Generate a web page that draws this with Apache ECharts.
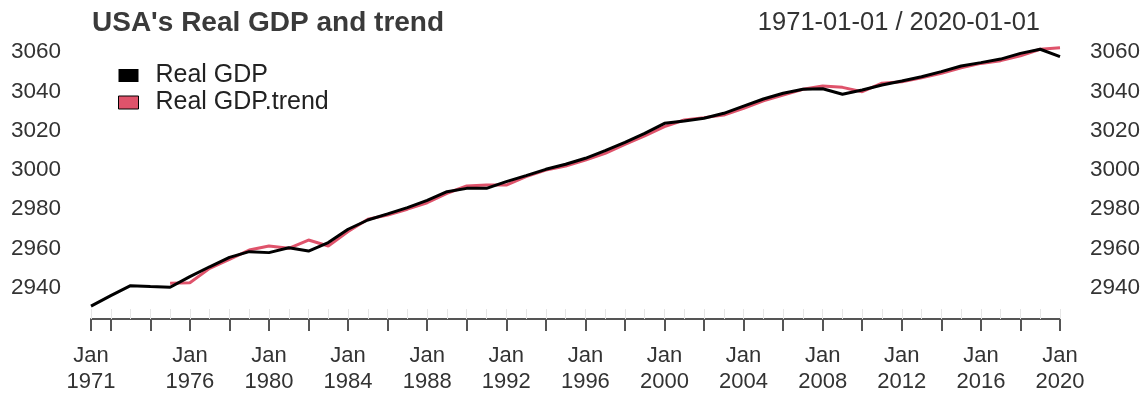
<!DOCTYPE html>
<html>
<head>
<meta charset="utf-8">
<script src="https://cdn.jsdelivr.net/npm/echarts@6/dist/echarts.min.js"></script>
<style>
  html, body { margin: 0; padding: 0; background: #fff; }
  #chart { width: 1148px; height: 396px; }
</style>
</head>
<body>
<div id="chart"></div>
<script>
// Annual observations, 1971 .. 2020
const years = [
  1971, 1972, 1973, 1974, 1975, 1976, 1977, 1978, 1979, 1980,
  1981, 1982, 1983, 1984, 1985, 1986, 1987, 1988, 1989, 1990,
  1991, 1992, 1993, 1994, 1995, 1996, 1997, 1998, 1999, 2000,
  2001, 2002, 2003, 2004, 2005, 2006, 2007, 2008, 2009, 2010,
  2011, 2012, 2013, 2014, 2015, 2016, 2017, 2018, 2019, 2020
];

const realGdp = [
  2930.7, 2936.0, 2941.1, 2940.6, 2940.3, 2945.7, 2950.7, 2955.5, 2958.4, 2957.9,
  2960.4, 2958.7, 2963.0, 2969.8, 2974.5, 2977.6, 2980.8, 2984.5, 2988.9, 2990.6,
  2990.6, 2994.0, 2997.1, 3000.3, 3002.9, 3005.9, 3009.8, 3014.0, 3018.6, 3023.7,
  3024.9, 3026.3, 3028.8, 3032.5, 3036.1, 3039.0, 3041.0, 3041.3, 3038.5, 3040.7,
  3043.2, 3045.2, 3047.4, 3050.0, 3052.9, 3054.6, 3056.4, 3059.3, 3061.4, 3057.6
];

// trend is undefined for the first four years
const realGdpTrend = [
  null, null, null, null, 2942.3, 2942.6, 2949.9, 2954.5, 2959.2, 2961.3,
  2960.1, 2964.3, 2961.3, 2968.6, 2974.9, 2977.0, 2980.0, 2983.3, 2988.1, 2991.8,
  2992.3, 2992.3, 2996.6, 2999.9, 3002.0, 3005.0, 3008.4, 3013.0, 3017.3, 3022.0,
  3025.4, 3026.6, 3027.9, 3031.3, 3035.2, 3038.1, 3041.0, 3042.7, 3042.0, 3039.8,
  3044.1, 3044.9, 3046.9, 3049.2, 3052.0, 3054.2, 3055.6, 3058.1, 3061.4, 3062.2
];

const tickYears = [1971, 1972, 1974, 1976, 1978, 1980, 1982, 1984, 1986, 1988, 1990,
  1992, 1994, 1996, 1998, 2000, 2002, 2004, 2006, 2008, 2010, 2012, 2014, 2016, 2018, 2020];
const labelYears = [1971, 1976, 1980, 1984, 1988, 1992, 1996, 2000, 2004, 2008, 2012, 2016, 2020];
const yTickValues = [2940, 2960, 2980, 3000, 3020, 3040, 3060];

const FONT = 'Liberation Sans, Arial, Helvetica, sans-serif';
const TEXT = '#333';
const Y_MIN = 2924.12, Y_MAX = 3065.09;

const gdpPoints = years.map((y, i) => [y, realGdp[i]]);
const trendPoints = years.map((y, i) => [y, realGdpTrend[i]]);

const yAxisBase = {
  type: 'value', min: Y_MIN, max: Y_MAX,
  axisLine: { show: false }, axisTick: { show: false }, splitLine: { show: false },
  axisLabel: { customValues: yTickValues, formatter: v => String(Math.round(v)),
    fontSize: 22.5, color: TEXT, fontFamily: FONT, margin: 30, padding: [3, 0, 0, 0] }
};

const chart = echarts.init(document.getElementById('chart'), null, { renderer: 'canvas' });
chart.setOption({
  animation: false,
  backgroundColor: '#fff',
  textStyle: { fontFamily: FONT },
  title: [
    { text: "USA's Real GDP and trend", left: 92, top: 9, padding: 0,
      textStyle: { fontSize: 28, fontWeight: 'bold', color: '#3a3a3a', fontFamily: FONT } },
    { text: '1971-01-01 / 2020-01-01', right: 108, top: 10, padding: 0,
      textStyle: { fontSize: 25.5, fontWeight: 'normal', color: TEXT, fontFamily: FONT } }
  ],
  legend: {
    orient: 'vertical', left: 113, top: 58, itemGap: 2,
    icon: 'rect', itemWidth: 20, itemHeight: 13,
    textStyle: { fontSize: 25, lineHeight: 25, color: '#222', fontFamily: FONT, padding: [0, 0, 0, 12] },
    data: [
      { name: 'Real GDP', itemStyle: { color: '#000', borderWidth: 0 } },
      { name: 'Real GDP.trend', itemStyle: { color: '#DF536B', borderColor: '#000', borderWidth: 1 } }
    ]
  },
  grid: { left: 91, right: 88, top: 42, bottom: 77, containLabel: false },
  xAxis: [
    {
      type: 'value', min: 1971, max: 2020, interval: 1,
      axisLine: { show: true, lineStyle: { color: '#555', width: 2 } },
      axisTick: { show: true, length: 12, customValues: tickYears, lineStyle: { color: '#555', width: 2 } },
      axisLabel: { customValues: labelYears, formatter: v => 'Jan\n' + v,
        fontSize: 22, lineHeight: 26, margin: 24, color: TEXT, fontFamily: FONT },
      splitLine: { show: false }
    },
    {
      type: 'value', min: 1971, max: 2020, interval: 1, position: 'bottom',
      axisLine: { show: false },
      axisTick: { show: true, inside: true, length: 10, lineStyle: { color: '#e6e6e6', width: 1 } },
      axisLabel: { show: false },
      splitLine: { show: false }
    }
  ],
  yAxis: [
    Object.assign({}, yAxisBase, { position: 'left' }),
    Object.assign({}, yAxisBase, { position: 'right' })
  ],
  series: [
    {
      name: 'Real GDP.trend', type: 'line', data: trendPoints, xAxisIndex: 0, yAxisIndex: 0,
      showSymbol: false, symbol: 'none', connectNulls: false, z: 2,
      lineStyle: { color: '#DF536B', width: 3 }, itemStyle: { color: '#DF536B' }
    },
    {
      name: 'Real GDP', type: 'line', data: gdpPoints, xAxisIndex: 0, yAxisIndex: 0,
      showSymbol: false, symbol: 'none', z: 3,
      lineStyle: { color: '#000', width: 3 }, itemStyle: { color: '#000' }
    }
  ]
});
</script>
</body>
</html>
